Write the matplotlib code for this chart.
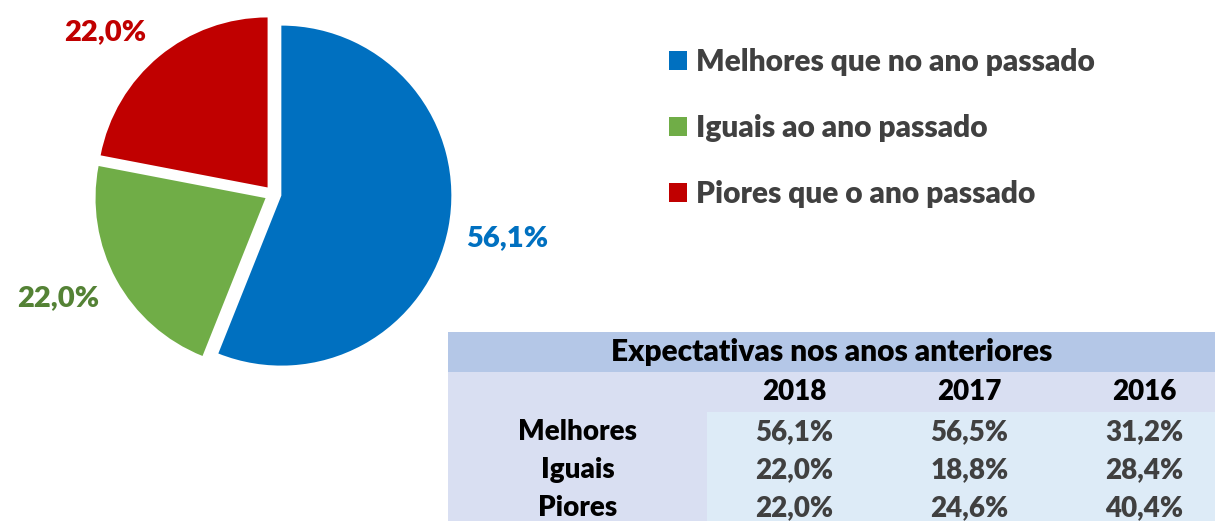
import matplotlib
matplotlib.use("Agg")
import matplotlib.pyplot as plt
from matplotlib.patches import Rectangle

# pie data (2018)
categories = ["Melhores que no ano passado", "Iguais ao ano passado", "Piores que o ano passado"]
values = [56.1, 22.0, 22.0]
colors = ["#0070C0", "#70AD47", "#C00000"]
label_colors = ["#0070C0", "#548235", "#C00000"]

# table data
table_title = "Expectativas nos anos anteriores"
years = ["2018", "2017", "2016"]
row_names = ["Melhores", "Iguais", "Piores"]
table_values = [
    [56.1, 56.5, 31.2],
    [22.0, 18.8, 28.4],
    [22.0, 24.6, 40.4],
]

W, H = 1215, 521
fig = plt.figure(figsize=(W / 100, H / 100), dpi=100)
fig.patch.set_facecolor("white")

FONT = dict(family="Lato", weight="heavy")


def pt(v):
    return f"{v:.1f}%".replace(".", ",")


# ---- pie ----
cx, cy, R = 273, 194, 170
ax = fig.add_axes([(cx - R) / W, 1 - (cy + R) / H, 2 * R / W, 2 * R / H])
wedges, texts = ax.pie(values, colors=colors, startangle=90, counterclock=False,
                       explode=[0.05] * 3, radius=1,
                       labels=[pt(v) for v in values], labeldistance=1.34,
                       textprops=dict(fontsize=21, **FONT))
# data label spots (Excel "best fit" places them unevenly)
label_pos = [(1.376, -0.259), (-1.265, -0.61), (-0.99, 0.955)]
for t, c, p in zip(texts, label_colors, label_pos):
    t.set_color(c)
    t.set_ha("center")
    t.set_va("center")
    t.set_position(p)
ax.set_xlim(-1, 1)
ax.set_ylim(-1, 1)
ax.set_aspect("equal")
ax.axis("off")
for w in wedges:
    w.set_clip_on(False)

# ---- legend ----
fig.legend(wedges, categories, loc="upper left",
           bbox_to_anchor=(669 / W, 1 - 48 / H), frameon=False,
           prop=dict(size=21.5, **FONT), labelcolor="#404040",
           handlelength=0.6, handleheight=0.6, handletextpad=0.3,
           labelspacing=1.27, borderaxespad=0, borderpad=0)

# ---- table ----
tx0, ty0, tx1, ty1 = 448, 332, 1215, 521
tax = fig.add_axes([tx0 / W, 1 - ty1 / H, (tx1 - tx0) / W, (ty1 - ty0) / H])
tax.set_xlim(0, tx1 - tx0)
tax.set_ylim(ty1 - ty0, 0)
tax.axis("off")

label_w, col_w = 259, 175
head_h, row_h = 40, 38
header_col = "#B4C7E7"
lav = "#D9DFF2"
cell_col = "#DDEBF7"

tax.add_patch(Rectangle((0, 0), 1000, head_h, color=header_col, lw=0))
tax.add_patch(Rectangle((0, head_h), 1000, head_h, color=lav, lw=0))
tax.add_patch(Rectangle((0, 2 * head_h), label_w, 400, color=lav, lw=0))
tax.add_patch(Rectangle((label_w, 2 * head_h), 1000, 400, color=cell_col, lw=0))

fs = 20
tax.text((tx1 - tx0) / 2, head_h / 2, table_title, ha="center", va="center",
         fontsize=21.5, color="black", **FONT)
for j, y in enumerate(years):
    tax.text(label_w + col_w * (j + 0.5), head_h * 1.5, y, ha="center", va="center",
             fontsize=fs, color="black", **FONT)
for i, name in enumerate(row_names):
    yc = 2 * head_h + row_h * (i + 0.5) + 1
    tax.text(label_w / 2, yc, name, ha="center", va="center",
             fontsize=fs, color="black", **FONT)
    for j, v in enumerate(table_values[i]):
        tax.text(label_w + col_w * (j + 0.5), yc, pt(v), ha="center", va="center",
                 fontsize=fs, color="#404040", **FONT)

fig.savefig("out.png", dpi=100)
